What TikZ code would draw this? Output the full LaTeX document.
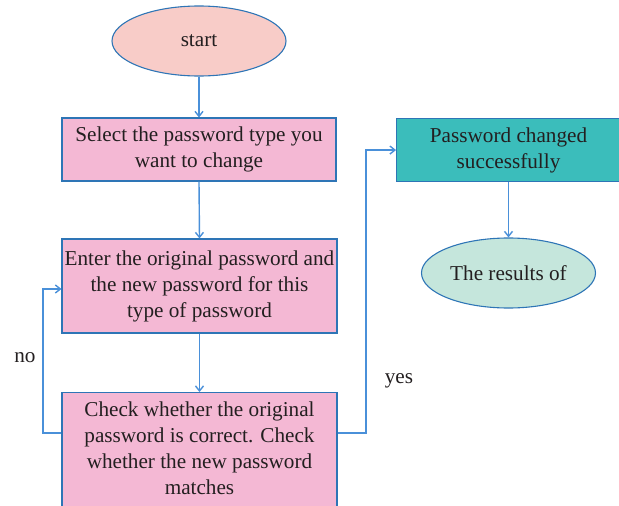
\documentclass[tikz,border=0pt]{standalone}
\usepackage{fontspec}
\setmainfont{Liberation Serif}
\usetikzlibrary{shapes.geometric,arrows.meta}
\definecolor{edgeblue}{HTML}{2E75B6}
\definecolor{arrowblue}{HTML}{4A90D9}
\definecolor{startfill}{HTML}{F8CCC8}
\definecolor{boxfill}{HTML}{F4B8D4}
\definecolor{tealfill}{HTML}{3BBDBB}
\definecolor{mintfill}{HTML}{C5E6DC}
\definecolor{txt}{HTML}{231F20}
\begin{document}
\begin{tikzpicture}[x=1pt,y=-1pt,
  every node/.style={font=\fontsize{21.2}{26}\selectfont, text=txt},
  oval/.style={ellipse, draw=edgeblue, line width=1.1pt, minimum width=174pt, minimum height=70pt, inner sep=0pt},
  procbox/.style={rectangle, draw=edgeblue, line width=1.1pt, fill=boxfill, align=center, inner sep=0pt},
  conn/.style={draw=arrowblue, line width=1.4pt, -{Straight Barb[length=5pt,width=8pt]}},
  lbl/.style={inner sep=0pt}]
\useasboundingbox (0,0) rectangle (619,506);
\node[oval, fill=startfill] (start) at (199,41) {start};
\node[procbox, minimum width=274pt, minimum height=63pt] (sel) at (199,149.5) {Select the password type you\\want to change};
\node[procbox, minimum width=275pt, minimum height=94pt] (enter) at (199.5,286) {Enter the original password and\\the new password for this\\type of password};
\node[procbox, minimum width=275pt, minimum height=122pt, anchor=north] (check) at (199.5,392) {};
\node[align=center, anchor=north] (checktxt) at (199.5,398) {Check whether the original\\password is correct. Check\\whether the new password\\matches};
\node[procbox, fill=tealfill, minimum width=224pt, minimum height=63pt, anchor=north west] (ok) at (396,118) {Password changed\\successfully};
\node[oval, fill=mintfill] (res) at (508.5,273) {The results of};
\node[lbl] (no) at (25,358) {no};
\node[lbl] (yes) at (399,381) {yes};
\coordinate (nol) at (43,433);
\coordinate (yesr) at (366,433);
\draw[conn] (start.south) -- (sel.north);
\draw[conn] (sel.south) -- (enter.north);
\draw[conn] (enter.south) -- (check.north);
\draw[conn] (check.west |- nol) -- (nol) |- (enter.west |- 0,289);
\draw[conn] (check.east |- yesr) -- (yesr) |- (ok.west);
\draw[conn] (ok.south -| res.north) -- (res.north);
\end{tikzpicture}
\end{document}
